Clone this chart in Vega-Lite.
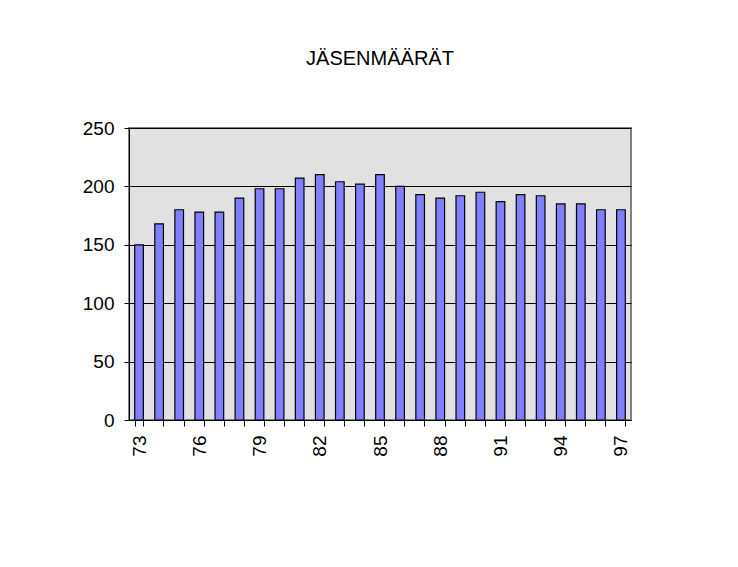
{
  "$schema": "https://vega.github.io/schema/vega-lite/v6.json",
  "autosize": "none",
  "width": 502,
  "height": 292,
  "padding": {"left": 129, "top": 128, "right": 107, "bottom": 147},
  "background": "white",
  "title": {
    "text": "JÄSENMÄÄRÄT",
    "font": "Liberation Sans",
    "fontSize": 20,
    "fontWeight": "normal",
    "color": "black",
    "anchor": "middle",
    "offset": 50
  },
  "data": {
    "values": [
      {"year": "73", "members": 150},
      {"year": "74", "members": 168},
      {"year": "75", "members": 180},
      {"year": "76", "members": 178},
      {"year": "77", "members": 178},
      {"year": "78", "members": 190},
      {"year": "79", "members": 198},
      {"year": "80", "members": 198},
      {"year": "81", "members": 207},
      {"year": "82", "members": 210},
      {"year": "83", "members": 204},
      {"year": "84", "members": 202},
      {"year": "85", "members": 210},
      {"year": "86", "members": 200},
      {"year": "87", "members": 193},
      {"year": "88", "members": 190},
      {"year": "89", "members": 192},
      {"year": "90", "members": 195},
      {"year": "91", "members": 187},
      {"year": "92", "members": 193},
      {"year": "93", "members": 192},
      {"year": "94", "members": 185},
      {"year": "95", "members": 185},
      {"year": "96", "members": 180},
      {"year": "97", "members": 180}
    ]
  },
  "mark": {"type": "bar", "fill": "#8080ff", "stroke": "black", "strokeWidth": 1.2},
  "encoding": {
    "x": {
      "field": "year",
      "type": "ordinal",
      "sort": null,
      "scale": {"paddingInner": 0.57, "paddingOuter": 0.285},
      "axis": {
        "title": null,
        "labelAngle": -90,
        "labelExpr": "(toNumber(datum.value) - 73) % 3 == 0 ? datum.label : ''",
        "tickBand": "extent",
        "tickSize": 6,
        "labelPadding": 9,
        "domainColor": "black",
        "tickColor": "black",
        "labelColor": "black",
        "labelFont": "Liberation Sans",
        "labelFontSize": 19
      }
    },
    "y": {
      "field": "members",
      "type": "quantitative",
      "scale": {"domain": [0, 250]},
      "axis": {
        "title": null,
        "values": [0, 50, 100, 150, 200, 250],
        "grid": true,
        "gridColor": "black",
        "gridOpacity": 1,
        "gridWidth": 1,
        "tickSize": 5,
        "labelPadding": 10,
        "domainColor": "black",
        "tickColor": "black",
        "labelColor": "black",
        "labelFont": "Liberation Sans",
        "labelFontSize": 19
      }
    }
  },
  "config": {
    "view": {"fill": "#e1e1e1", "stroke": "#808080", "strokeWidth": 2}
  }
}
